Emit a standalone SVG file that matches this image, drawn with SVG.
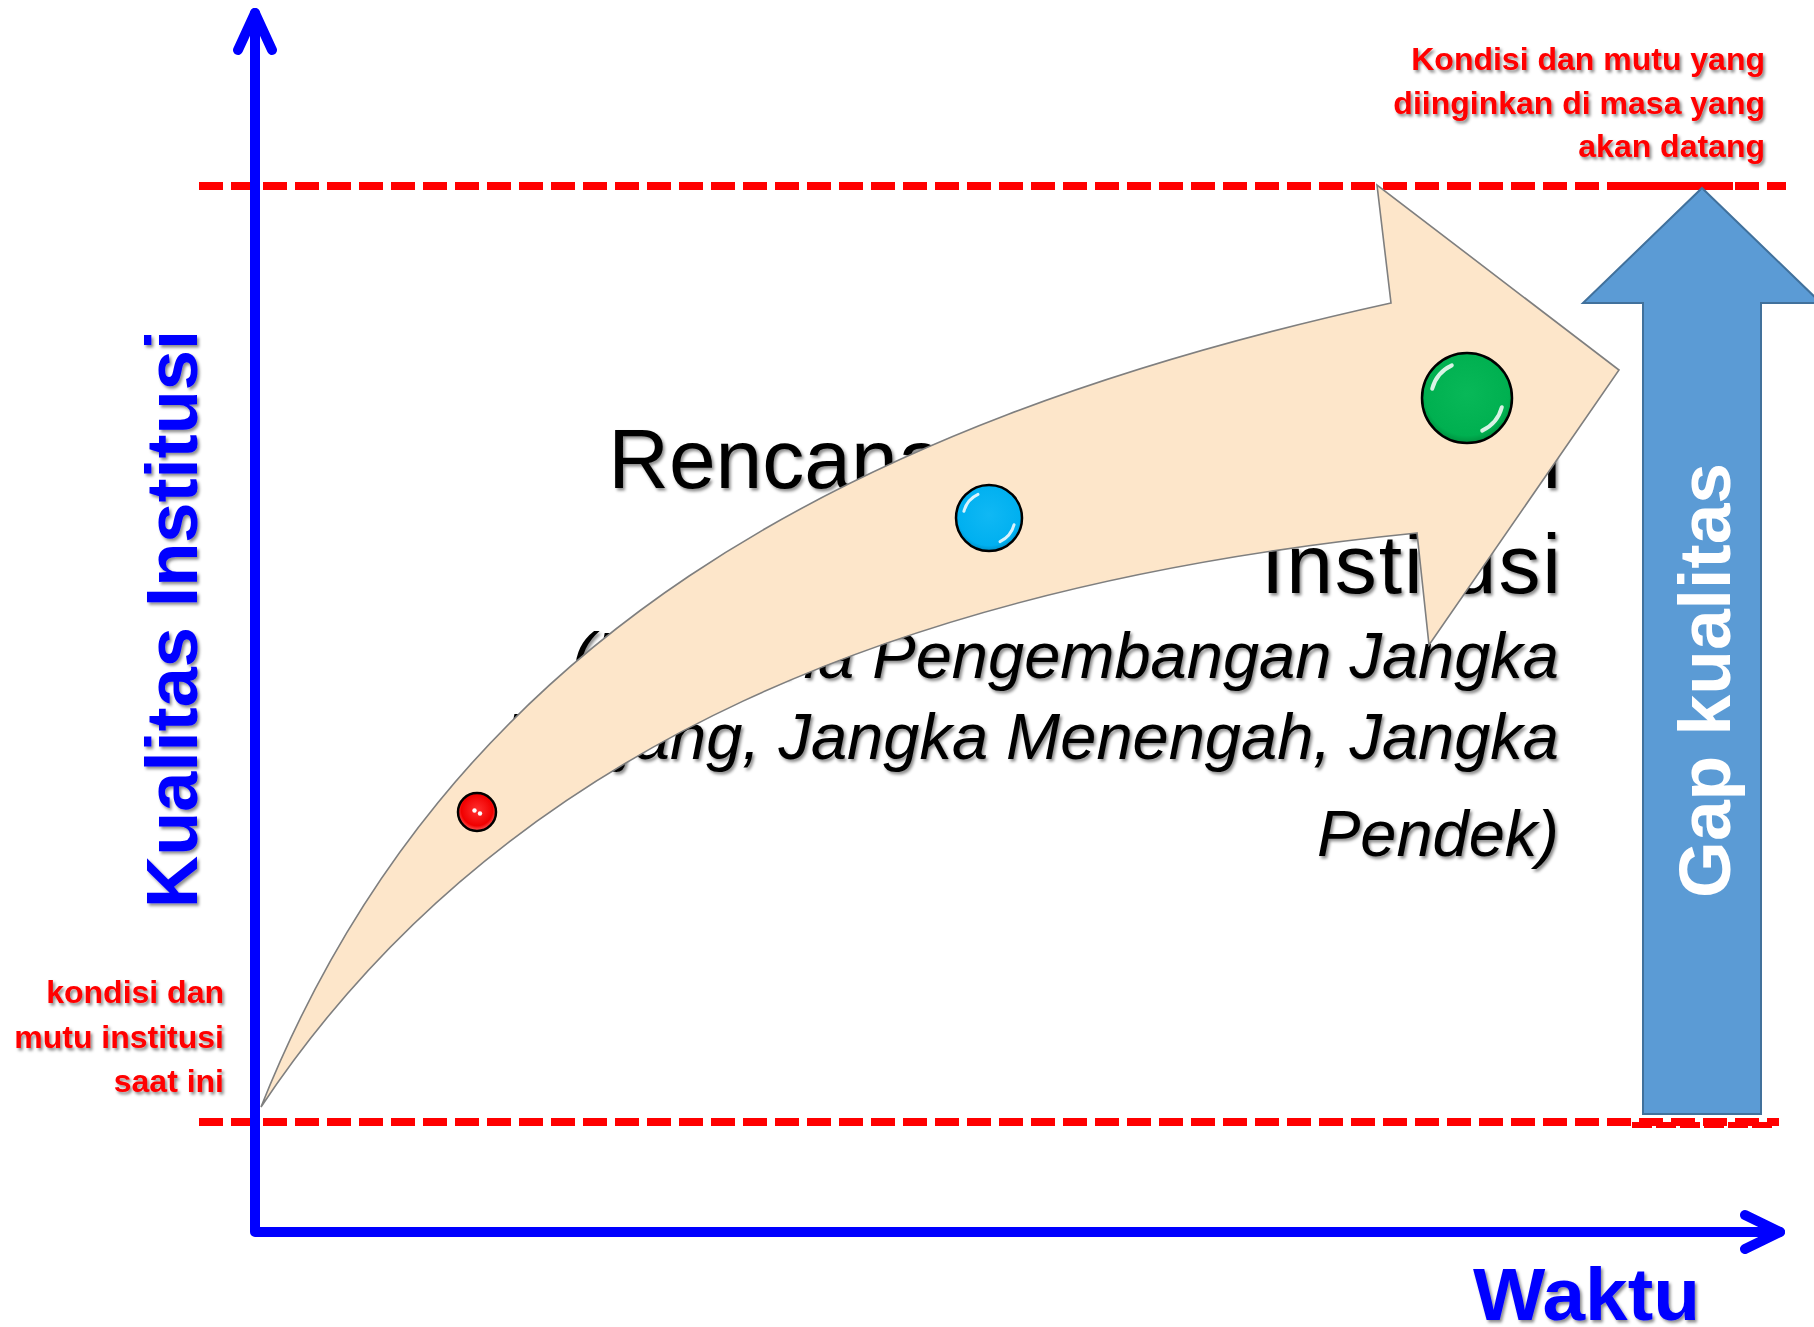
<svg xmlns="http://www.w3.org/2000/svg" width="1814" height="1327" viewBox="0 0 1814 1327">
  <defs>
    <filter id="sh" x="-10%" y="-10%" width="120%" height="130%">
      <feDropShadow dx="2" dy="2.5" stdDeviation="1.5" flood-color="#000" flood-opacity="0.45"/>
    </filter>
    <radialGradient id="gRed" cx="50%" cy="45%" r="55%">
      <stop offset="0" stop-color="#FF3030"/>
      <stop offset="0.75" stop-color="#F00000"/>
      <stop offset="1" stop-color="#FF6060"/>
    </radialGradient>
    <radialGradient id="gBlue" cx="50%" cy="45%" r="55%">
      <stop offset="0" stop-color="#10B8F4"/>
      <stop offset="0.85" stop-color="#00B0F0"/>
      <stop offset="1" stop-color="#0090C8"/>
    </radialGradient>
    <radialGradient id="gGreen" cx="50%" cy="45%" r="55%">
      <stop offset="0" stop-color="#08B858"/>
      <stop offset="0.85" stop-color="#00B050"/>
      <stop offset="1" stop-color="#00903F"/>
    </radialGradient>
    <style>
      .dash { stroke: #FF0000; stroke-width: 8; stroke-dasharray: 24 8; fill: none; }
      .axis { stroke: #0000FF; stroke-width: 10; fill: none; stroke-linecap: round; stroke-linejoin: round; }
      .red { font-family: "Liberation Sans", Arial, sans-serif; font-weight: bold; font-size: 32px; fill: #FF0000; text-anchor: end; }
      .blue { font-family: "Liberation Sans", Arial, sans-serif; font-weight: bold; fill: #0000FF; }
      .title { font-family: "Liberation Sans", Arial, sans-serif; font-size: 84px; fill: #000; text-anchor: end; }
      .sub { font-family: "Liberation Sans", Arial, sans-serif; font-style: italic; font-size: 65px; fill: #000; text-anchor: end; }
      .hl { stroke: #FFFFFF; fill: none; stroke-linecap: round; opacity: 0.85; }
      .ball { stroke: #000; stroke-width: 2.5; }
    </style>
  </defs>

  <rect width="1814" height="1327" fill="#FFFFFF"/>

  <g id="reference-lines">
    <line class="dash" x1="199" y1="186" x2="1786" y2="186"/>
    <line x1="1607" y1="186" x2="1733" y2="186" stroke="#FF0000" stroke-width="8"/>
    <line class="dash" x1="199" y1="1122" x2="1779" y2="1122"/>
    <line x1="1632" y1="1125" x2="1773" y2="1125" stroke="#FF0000" stroke-width="6" stroke-dasharray="20 4"/>
  </g>

  <g id="main-text" filter="url(#sh)">
    <text class="title" x="1561" y="488">Rencana Pengembangan</text>
    <text class="title" x="1561" y="593" textLength="300" lengthAdjust="spacing">Institusi</text>
    <text class="sub" x="1559" y="678">(Rencana Pengembangan Jangka</text>
    <text class="sub" x="1559" y="759">Panjang, Jangka Menengah, Jangka</text>
    <text class="sub" x="1559" y="856">Pendek)</text>
  </g>

  <g id="curved-arrow">
    <path d="M261,1107 C446,642 841,424 1391,303 L1377,185 L1619,370 L1429,645 L1417,533 C917,583 505,740 261,1107 Z" fill="#FDE6CA" stroke="#7F7F7F" stroke-width="1.6" stroke-linejoin="miter"/>
  </g>

  <g id="ball-red">
    <circle class="ball" cx="477" cy="812" r="19" fill="url(#gRed)"/>
    <circle cx="474.5" cy="810.5" r="2.2" fill="#FFFFFF"/>
    <circle cx="480" cy="813.5" r="2.2" fill="#FFFFFF"/>
  </g>
  <g id="ball-blue">
    <circle class="ball" cx="989" cy="518" r="33" fill="url(#gBlue)"/>
    <path class="hl" stroke-width="3" d="M963.9,511.3 A26,26 0 0 1 978,494.4"/>
    <path class="hl" stroke-width="3" d="M1014.1,524.7 A26,26 0 0 1 1000,541.6"/>
  </g>
  <g id="ball-green">
    <circle class="ball" cx="1467" cy="398" r="45" fill="url(#gGreen)"/>
    <path class="hl" stroke-width="4" d="M1432.2,388.7 A36,36 0 0 1 1451.8,365.4"/>
    <path class="hl" stroke-width="4" d="M1501.8,407.3 A36,36 0 0 1 1482.2,430.6"/>
  </g>

  <g id="gap-arrow">
    <path d="M1702,188 L1821,303 L1761,303 L1761,1114 L1643,1114 L1643,303 L1583,303 Z" fill="#5B9BD5" stroke="#41719C" stroke-width="2"/>
    <text transform="translate(1730,898) rotate(-90)" font-family="Liberation Sans, Arial, sans-serif" font-weight="bold" font-size="73" fill="#FFFFFF" textLength="435" lengthAdjust="spacingAndGlyphs">Gap kualitas</text>
  </g>

  <g id="axes">
    <path class="axis" d="M255,13 L255,1232 L1780,1232"/>
    <path class="axis" d="M238,50 L255,13 L272,50"/>
    <path class="axis" d="M1745,1215 L1780,1232 L1745,1249"/>
  </g>

  <g id="axis-labels" filter="url(#sh)">
    <text class="blue" font-size="73" transform="translate(197,908) rotate(-90)" textLength="578" lengthAdjust="spacingAndGlyphs">Kualitas Institusi</text>
    <text class="blue" font-size="74" x="1473" y="1320" textLength="227" lengthAdjust="spacingAndGlyphs">Waktu</text>
  </g>

  <g id="label-current" filter="url(#sh)">
    <text class="red" x="224" y="1003">kondisi dan</text>
    <text class="red" x="224" y="1048">mutu institusi</text>
    <text class="red" x="224" y="1092">saat ini</text>
  </g>

  <g id="label-target" filter="url(#sh)">
    <text class="red" x="1765" y="70">Kondisi dan mutu yang</text>
    <text class="red" x="1765" y="114">diinginkan di masa yang</text>
    <text class="red" x="1765" y="157">akan datang</text>
  </g>
</svg>
